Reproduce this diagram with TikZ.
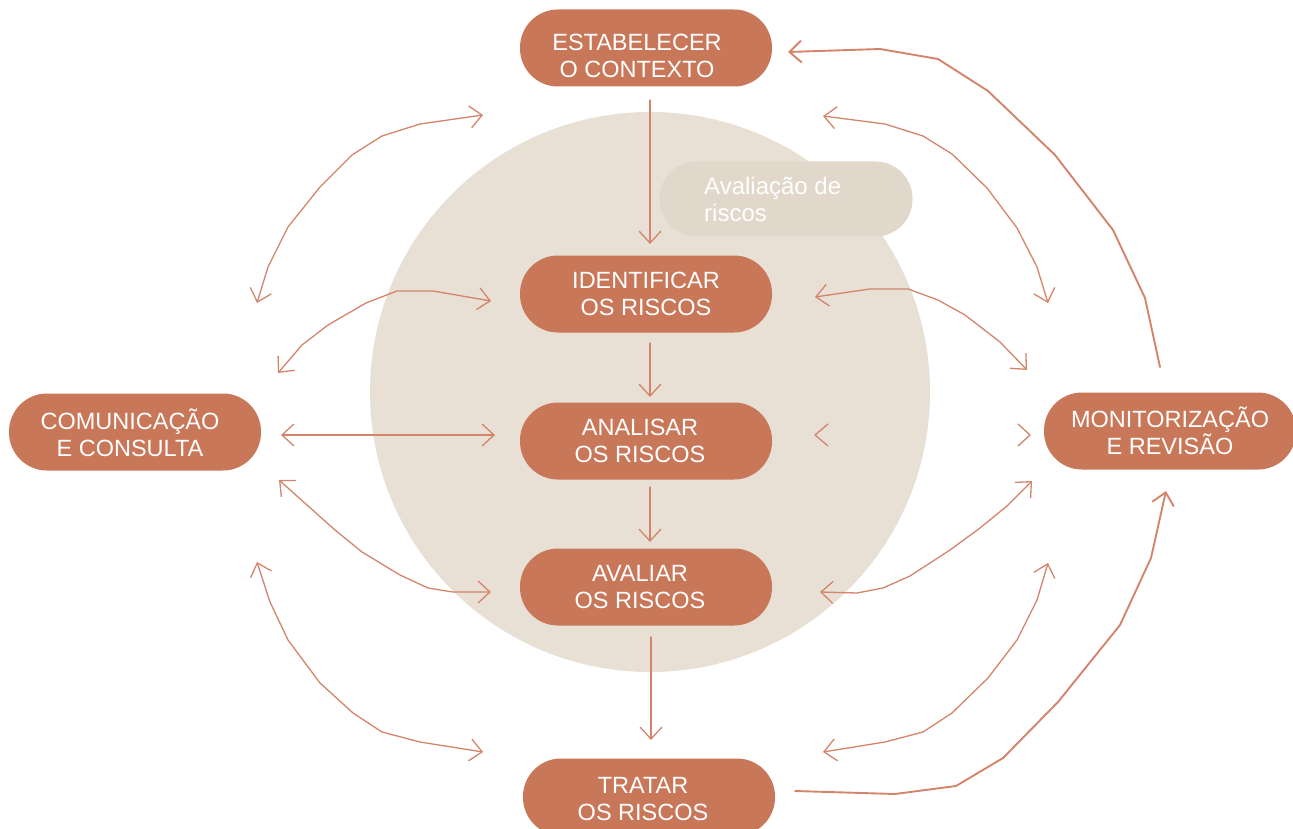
\documentclass[tikz,border=0pt]{standalone}
\usepackage{fontspec}
\setmainfont{Liberation Sans}
\usetikzlibrary{arrows.meta}
\definecolor{pill}{HTML}{C97759}
\definecolor{disc}{HTML}{E8E0D5}
\definecolor{tag}{HTML}{E2D7CB}
\definecolor{arr}{HTML}{D4846A}
\tikzset{
  pillbox/.style={fill=pill, draw=none, rounded corners=38pt, minimum width=252pt, minimum height=77pt,
    text=white, align=center, inner sep=0pt, font=\fontsize{23.5}{27}\selectfont},
  pilltext/.style={text=white, align=center, inner sep=0pt, font=\fontsize{23.5}{27}\selectfont},
  conn/.style={draw=arr, line width=1.3pt, line join=round, line cap=round},
  thick conn/.style={draw=arr, line width=1.9pt, line join=round, line cap=round},
  hd/.style={-{Straight Barb[length=12pt,width=22pt]}},
  hdd/.style={{Straight Barb[length=12pt,width=22pt]}-{Straight Barb[length=12pt,width=22pt]}},
}
\begin{document}
\begin{tikzpicture}[x=1pt,y=-1pt]
\useasboundingbox (0,0) rectangle (1293,829);
% background disc
\fill[disc] (650,392) circle (280);
% risk assessment tag
\node[fill=tag, rounded corners=37pt, minimum width=253pt, minimum height=75pt, inner sep=0pt] (tagbox) at (786,199) {};
\node[anchor=base west, text=white, align=left, inner sep=0pt, font=\fontsize{24}{27}\selectfont] (tagtext) at (704,222) {Avaliação de\\riscos};
% main nodes
\node[pillbox] (est) at (646,48) {};
\node[pilltext] (esttext) at (637,55.5) {ESTABELECER\\O CONTEXTO};
\node[pillbox] (ide) at (646,294) {IDENTIFICAR\\OS RISCOS};
\node[pillbox] (ana) at (646,441) {};
\node[pilltext] (anatext) at (640,441) {ANALISAR\\OS RISCOS};
\node[pillbox] (ava) at (646,587) {};
\node[pilltext] (avatext) at (640,587) {AVALIAR\\OS RISCOS};
\node[pillbox] (tra) at (649,797) {};
\node[pilltext] (tratext) at (643,799) {TRATAR\\OS RISCOS};
\node[pillbox] (com) at (135,432) {};
\node[pilltext] (comtext) at (130,433) {COMUNICAÇÃO\\E CONSULTA};
\node[pillbox] (mon) at (1170,431) {MONITORIZAÇÃO\\E REVISÃO};
% vertical flow
\coordinate (v1a) at (650,100); \coordinate (v1b) at (650,244);
\coordinate (v2a) at (650,343); \coordinate (v2b) at (650,397);
\coordinate (v3a) at (650,487); \coordinate (v3b) at (650,542);
\coordinate (v4a) at (651,637); \coordinate (v4b) at (651,740);
\draw[conn,hd] (v1a) -- (v1b);
\draw[conn,hd] (v2a) -- (v2b);
\draw[conn,hd] (v3a) -- (v3b);
\draw[conn,hd] (v4a) -- (v4b);
% left side connectors
\coordinate (l1a) at (257,303); \coordinate (l1b) at (483,115);
\draw[conn,hdd] (l1a) -- (268,267) -- (288,227) -- (320,187) -- (352,155) -- (382,136) -- (420,124) -- (l1b);
\coordinate (l2a) at (278,373); \coordinate (l2b) at (491,301);
\draw[conn,hdd] (l2a) -- (302,345) -- (328,325) -- (366,303) -- (397,291) -- (433,291) -- (l2b);
\coordinate (l3a) at (281,435); \coordinate (l3b) at (495,435);
\draw[conn,hdd] (l3a) -- (l3b);
\coordinate (l4a) at (279,480); \coordinate (l4b) at (491,592);
\draw[conn,hdd] (l4a) -- (335,530) -- (362,552) -- (400,575) -- (428,588) -- (453,592) -- (l4b);
\coordinate (l5a) at (257,562); \coordinate (l5b) at (483,752);
\draw[conn,hdd] (l5a) -- (270,602) -- (288,640) -- (320,683) -- (353,713) -- (382,732) -- (420,742) -- (l5b);
% right side connectors
\coordinate (r1a) at (1160,367); \coordinate (r1b) at (788,52);
\draw[thick conn,hd] (r1a) -- (1145,298) -- (1113,230) -- (1055,155) -- (988,91) -- (938,59) -- (880,49) -- (r1b);
\coordinate (r2a) at (1048,303); \coordinate (r2b) at (823,116);
\draw[conn,hdd] (r2a) -- (1037,267) -- (1017,228) -- (987,188) -- (952,154) -- (923,136) -- (885,124) -- (r2b);
\coordinate (r3a) at (1027,370); \coordinate (r3b) at (815,297);
\draw[conn,hdd] (r3a) -- (1000,342) -- (965,315) -- (938,300) -- (908,289) -- (870,289) -- (r3b);
\draw[conn] (828,424) -- (815,435) -- (828,446);
\draw[conn] (1018,424) -- (1030,435) -- (1018,446);
\coordinate (r4a) at (1032,481); \coordinate (r4b) at (820,592);
\draw[conn,hdd] (r4a) -- (1007,506) -- (980,528) -- (950,550) -- (910,576) -- (883,588) -- (857,593) -- (r4b);
\coordinate (r5a) at (1048,563); \coordinate (r5b) at (823,752);
\draw[conn,hdd] (r5a) -- (1037,600) -- (1017,640) -- (988,678) -- (952,713) -- (923,732) -- (885,742) -- (r5b);
\coordinate (r6a) at (795,791); \coordinate (r6b) at (1166,491);
\draw[thick conn,hd] (r6a) -- (895,794) -- (956,786) -- (1003,758) -- (1058,702) -- (1120,625) -- (1151,558) -- (r6b);
\end{tikzpicture}
\end{document}
